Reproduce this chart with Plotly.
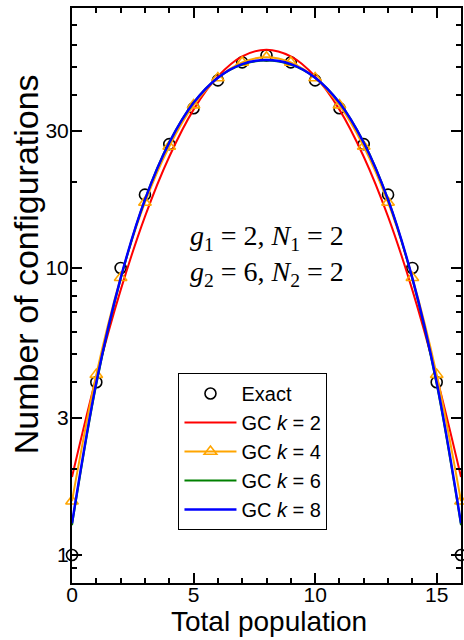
import plotly.graph_objects as go

# ---- data ----
population = list(range(17))
exact = [1, 4, 10, 18, 27, 36, 45, 52, 55, 52, 45, 36, 27, 18, 10, 4, 1]
gc_k2 = [1.87, 4.17, 8.37, 15.1, 24.4, 35.6, 46.5, 54.6, 57.6,
         54.6, 46.5, 35.6, 24.4, 15.1, 8.37, 4.17, 1.87]
gc_k4 = [1.54, 4.25, 9.24, 16.9, 26.5, 36.9, 45.9, 52.0, 54.2,
         52.0, 45.9, 36.9, 26.5, 16.9, 9.24, 4.25, 1.54]
gc_k6 = [1.27, 3.93, 9.15, 17.3, 27.4, 37.7, 46.0, 51.1, 52.8,
         51.1, 46.0, 37.7, 27.4, 17.3, 9.15, 3.93, 1.27]
gc_k8 = [1.29, 3.99, 9.22, 17.3, 27.3, 37.6, 46.0, 51.3, 53.0,
         51.3, 46.0, 37.6, 27.3, 17.3, 9.22, 3.99, 1.29]

x_ticks = [0, 5, 10, 15]
x_minor = list(range(17))
y_ticks = [1, 3, 10, 30]
y_minor = [0.9, 2, 4, 5, 6, 7, 8, 9, 20, 40, 50, 60, 70, 80]

SANS = "Liberation Sans, Arial, sans-serif"
SERIF = "Liberation Serif, Times New Roman, serif"

fig = go.Figure()
fig.add_trace(go.Scatter(
    x=population, y=exact, mode="markers", name="Exact",
    marker=dict(symbol="circle-open", size=11, color="black",
                line=dict(width=1.6, color="black")),
    cliponaxis=False))
fig.add_trace(go.Scatter(
    x=population, y=gc_k2, mode="lines", name="GC <i>k</i> = 2",
    line=dict(color="#ff0000", width=2, shape="spline")))
fig.add_trace(go.Scatter(
    x=population, y=gc_k4, mode="lines+markers", name="GC <i>k</i> = 4",
    line=dict(color="#ffa500", width=2, shape="spline"),
    marker=dict(symbol="triangle-up-open", size=11, color="#ffa500",
                line=dict(width=1.6, color="#ffa500")),
    cliponaxis=False))
fig.add_trace(go.Scatter(
    x=population, y=gc_k6, mode="lines", name="GC <i>k</i> = 6",
    line=dict(color="#008000", width=2, shape="spline")))
fig.add_trace(go.Scatter(
    x=population, y=gc_k8, mode="lines", name="GC <i>k</i> = 8",
    line=dict(color="#0000ff", width=2.4, shape="spline")))

axis_common = dict(
    showline=True, linecolor="black", linewidth=2, mirror="ticks",
    ticks="inside", tickcolor="black", tickwidth=1.5, ticklen=10,
    showgrid=False, zeroline=False,
    tickfont=dict(family=SANS, size=21, color="black"),
)

fig.update_xaxes(
    range=[0, 16], tickmode="array", tickvals=x_ticks,
    ticklabelstandoff=-8,
    minor=dict(tickmode="array", tickvals=x_minor, ticks="inside",
               ticklen=5, tickwidth=1.5, tickcolor="black", showgrid=False),
    **axis_common)
fig.update_yaxes(
    type="log", range=[-0.0975, 1.9055], tickmode="array",
    tickvals=y_ticks, ticktext=[str(v) for v in y_ticks],
    ticklabelstandoff=-3,
    minor=dict(tickmode="array", tickvals=y_minor, ticks="inside",
               ticklen=5, tickwidth=1.5, tickcolor="black", showgrid=False),
    **axis_common)

fig.update_layout(
    width=464, height=640,
    margin=dict(l=72, r=1, t=8, b=57),
    paper_bgcolor="white", plot_bgcolor="white",
    showlegend=True,
    legend=dict(
        x=0.2737, y=0.3652, xanchor="left", yanchor="top",
        bgcolor="white", bordercolor="black", borderwidth=1,
        font=dict(family=SANS, size=20, color="black"),
        tracegroupgap=0, itemwidth=52,
        entrywidth=103, entrywidthmode="pixels",
    ),
    annotations=[
        dict(text="Number of configurations", textangle=-90,
             xref="paper", yref="paper", x=-0.1176, y=0.5548,
             xanchor="center", yanchor="middle", showarrow=False,
             font=dict(family=SANS, size=34, color="black")),
        dict(text="Total population",
             xref="paper", yref="paper", x=0.5077, y=-0.0678,
             xanchor="center", yanchor="middle", showarrow=False,
             font=dict(family=SANS, size=28, color="black")),
        dict(text="<i>g</i><sub>1</sub> = 2, <i>N</i><sub>1</sub> = 2",
             xref="paper", yref="paper", x=0.5013, y=0.6017,
             xanchor="center", yanchor="middle", showarrow=False,
             font=dict(family=SERIF, size=28, color="black")),
        dict(text="<i>g</i><sub>2</sub> = 6, <i>N</i><sub>2</sub> = 2",
             xref="paper", yref="paper", x=0.5013, y=0.5374,
             xanchor="center", yanchor="middle", showarrow=False,
             font=dict(family=SERIF, size=28, color="black")),
    ],
)

fig.write_html(
    "out.html",
    config={"displayModeBar": False},
    post_script="document.body.style.margin='0';document.body.style.padding='0';"
                "document.body.style.overflow='hidden';",
)
